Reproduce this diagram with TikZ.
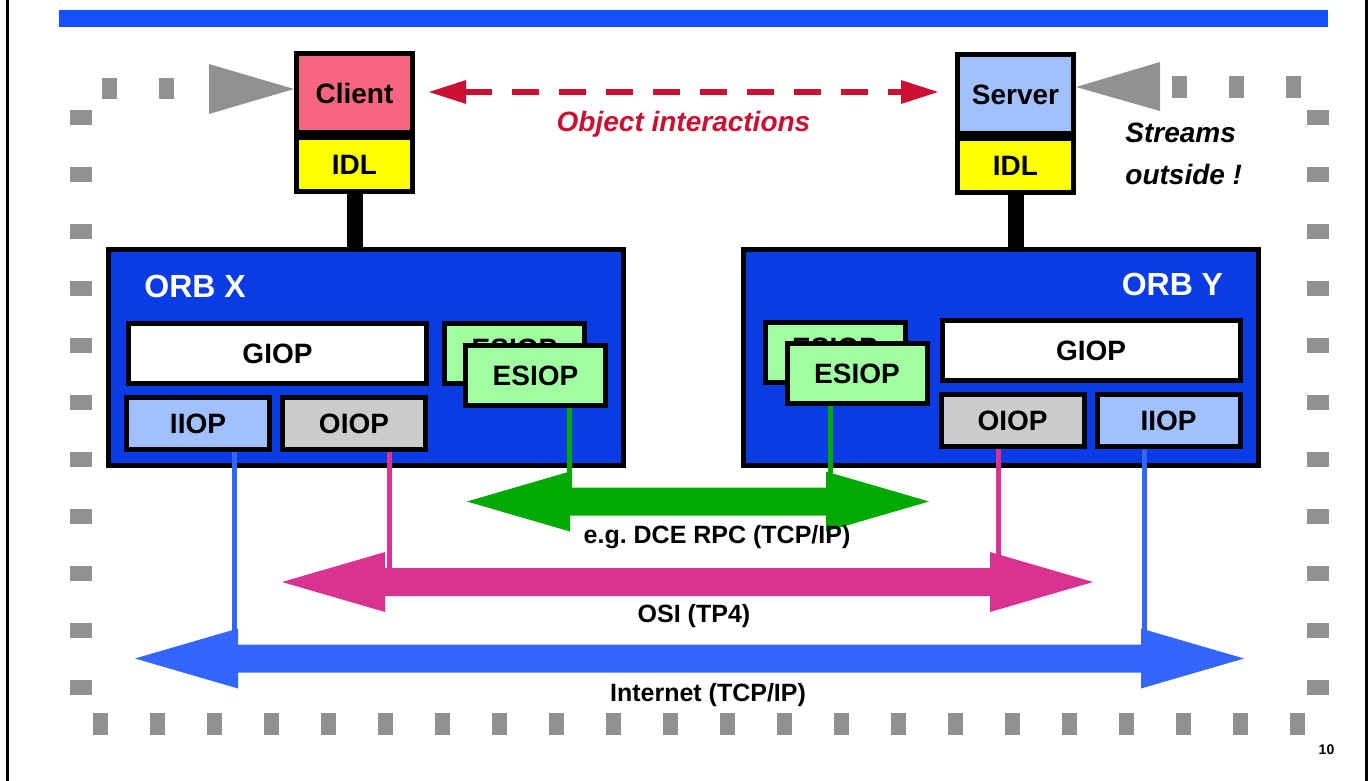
\documentclass[tikz,border=0pt]{standalone}
\usepackage{fontspec}
\setmainfont{Liberation Sans}
\usetikzlibrary{arrows.meta, positioning, calc}

\definecolor{clientpink}{RGB}{246,102,128}
\definecolor{lightblue}{RGB}{160,192,255}
\definecolor{idlyellow}{RGB}{255,255,0}
\definecolor{orbblue}{RGB}{10,60,230}
\definecolor{esiopgreen}{RGB}{160,255,160}
\definecolor{oiopgray}{RGB}{204,204,204}
\definecolor{dcegreen}{RGB}{0,170,0}
\definecolor{osipink}{RGB}{217,50,145}
\definecolor{inetblue}{RGB}{51,102,255}
\definecolor{objred}{RGB}{204,16,51}
\definecolor{dotgray}{RGB}{145,145,145}
\definecolor{barblue}{RGB}{20,80,255}

% fat double-headed network arrow between two tips
\newcommand{\netarrow}[3]{%
  \fill[#1] (#2) -- ($(#2)+(103,-30)$) -- ($(#2)+(103,-14)$) -- ($(#3)+(-103,-14)$)
    -- ($(#3)+(-103,-30)$) -- (#3) -- ($(#3)+(-103,30)$) -- ($(#3)+(-103,14)$)
    -- ($(#2)+(103,14)$) -- ($(#2)+(103,30)$) -- cycle;}

\begin{document}
\begin{tikzpicture}[
    x=0.5pt, y=-0.5pt,
    box/.style={draw, line width=2.5pt, inner sep=0pt, align=center, font=\bfseries\fontsize{14}{16}\selectfont},
    app/.style={box, minimum width=58pt, minimum height=39.5pt},
    idl/.style={box, fill=idlyellow, minimum width=58pt, minimum height=27pt},
    orb/.style={draw, line width=2.5pt, fill=orbblue, minimum width=257.5pt, minimum height=108pt},
    orblabel/.style={inner sep=0pt, text=white, font=\bfseries\fontsize{16}{18}\selectfont},
    giop/.style={box, fill=white, minimum width=149pt, minimum height=30pt},
    esiop/.style={box, fill=esiopgreen, minimum width=70pt, minimum height=30pt},
    esiopback/.style={esiop, text depth=5pt},
    proto/.style={box, minimum width=71.5pt, minimum height=26pt},
    stem/.style={line width=8pt},
    link/.style={line width=2.5pt},
    objlink/.style={<->, >={Triangle[length=19pt, width=11pt]}, draw=objred, line width=3pt, dash pattern=on 13.5pt off 10pt},
    netlabel/.style={font=\bfseries\fontsize{12.5}{14}\selectfont},
    >=Stealth
]
    \useasboundingbox (0,0) rectangle (1372,781);

    % page frame and title bar
    \draw[line width=1.5pt] (7,0) -- (7,781);
    \draw[line width=1.5pt] (1366,0) -- (1366,781);
    \fill[barblue] (59,10) rectangle (1328,27);

    % dotted border of the "outside" world
    \foreach \k in {0,...,10} {
        \fill[dotgray] (70,110+57*\k) rectangle ++(22,15);
        \fill[dotgray] (1307,110+57*\k) rectangle ++(22,15);
    }
    \foreach \k in {0,...,21}
        \fill[dotgray] (93+57*\k,713) rectangle ++(15,22);
    \foreach \x in {102,159}
        \fill[dotgray] (\x,78) rectangle ++(15,21);
    \foreach \x in {1172,1229,1286}
        \fill[dotgray] (\x,76) rectangle ++(15,22);

    % client and server
    \node[app, fill=clientpink] (client) at (354.5,93) {Client};
    \node[idl, below=0pt of client] (idlc) {IDL};
    \node[app, fill=lightblue] (server) at (1015.5,94.5) {Server};
    \node[idl, below=0pt of server] (idls) {IDL};
    \fill[dotgray] ([yshift=2pt]client.west) -- ++(-85,-25) -- ++(0,50) -- cycle;
    \fill[dotgray] ([yshift=3.75pt]server.east) -- ++(84,-25) -- ++(0,49) -- cycle;
    \node[inner sep=0pt, anchor=north west, align=left, font=\bfseries\itshape\fontsize{14}{21}\selectfont] (streams) at (1125,123) {Streams\\outside !};

    \draw[objlink] ([xshift=6.5pt,yshift=0.5pt]client.east) -- node[below=5pt, text=objred, font=\bfseries\itshape\fontsize{14}{16}\selectfont] (objlbl) {Object interactions} ([xshift=-8pt,yshift=0.5pt]client.east -| server.west);

    % ORB X
    \node[orb] (orbx) at (366,357.5) {};
    \draw[stem] (idlc.south) -- (idlc.south |- orbx.north);
    \node[orblabel, below right=14pt and 19pt of orbx.north west] (orbxlbl) {ORB X};
    \node[giop, below right=37pt and 10pt of orbx.north west] (giopx) {GIOP};
    \node[proto, fill=lightblue, below right=4.5pt and -1pt of giopx.south west] (iiopx) {IIOP};
    \node[proto, fill=oiopgray, right=4pt of iiopx] (oiopx) {OIOP};
    \node[esiopback, right=6.5pt of giopx] (esiopxb) {ESIOP};
    \node[esiop] (esiopxf) at ([shift={(10.5pt,-11pt)}]esiopxb) {ESIOP};

    % ORB Y
    \node[orb] (orby) at (1000.5,357.5) {};
    \draw[stem] (idls.south) -- (idls.south |- orby.north);
    \node[orblabel, below left=13pt and 18.5pt of orby.north east] (orbylbl) {ORB Y};
    \node[giop, below left=35.5pt and 9pt of orby.north east] (giopy) {GIOP};
    \node[proto, fill=lightblue, below left=4.5pt and 0pt of giopy.south east] (iiopy) {IIOP};
    \node[proto, fill=oiopgray, left=4pt of iiopy] (oiopy) {OIOP};
    \node[esiopback, below right=36.5pt and 11pt of orby.north west] (esiopyb) {ESIOP};
    \node[esiop] (esiopyf) at ([shift={(11pt,-10.5pt)}]esiopyb) {ESIOP};

    % transport links
    \coordinate (dceL) at (467,501.5);  \coordinate (dceR) at (929,501.5);
    \coordinate (osiL) at (282,582);    \coordinate (osiR) at (1093,582);
    \coordinate (inetL) at (135,658.5); \coordinate (inetR) at (1244,658.5);
    \coordinate (dcex) at (569,501.5);  \coordinate (dcey) at (830,501.5);
    \coordinate (osix) at (389,582);    \coordinate (osiy) at (998,582);
    \coordinate (inetx) at (234,658.5); \coordinate (inety) at (1144,658.5);

    \draw[link, dcegreen] (esiopxf.south -| dcex) -- (dcex);
    \draw[link, dcegreen] (esiopyf.south -| dcey) -- (dcey);
    \draw[link, osipink] (oiopx.south -| osix) -- (osix);
    \draw[link, osipink] (oiopy.south -| osiy) -- (osiy);
    \draw[link, inetblue] (iiopx.south -| inetx) -- (inetx);
    \draw[link, inetblue] (iiopy.south -| inety) -- (inety);

    \netarrow{dcegreen}{dceL}{dceR}
    \netarrow{osipink}{osiL}{osiR}
    \netarrow{inetblue}{inetL}{inetR}

    \node[netlabel] (dcelbl) at (717,537) {e.g.\ DCE RPC (TCP/IP)};
    \node[netlabel] (osilbl) at (694,616) {OSI (TP4)};
    \node[netlabel] (inetlbl) at (708,695) {Internet (TCP/IP)};

    \node[font=\bfseries\fontsize{7}{8}\selectfont] (pagenum) at (1326.5,749.5) {10};
\end{tikzpicture}
\end{document}
